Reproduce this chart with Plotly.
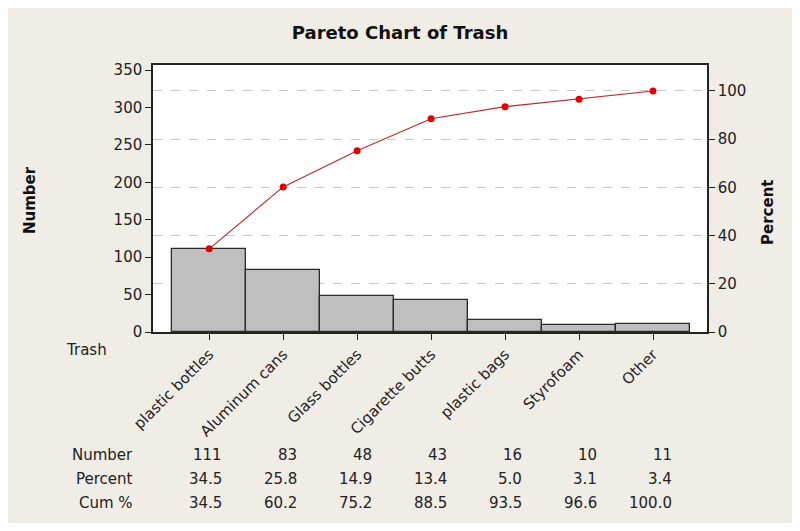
import plotly.graph_objects as go

# ---- data ------------------------------------------------------------------
categories = ["plastic bottles", "Aluminum cans", "Glass bottles", "Cigarette butts",
              "plastic bags", "Styrofoam", "Other"]
counts = [111, 83, 48, 43, 16, 10, 11]
percent = [34.5, 25.8, 14.9, 13.4, 5.0, 3.1, 3.4]
cum_percent = [34.5, 60.2, 75.2, 88.5, 93.5, 96.6, 100.0]
left_ticks = [0, 50, 100, 150, 200, 250, 300, 350]
right_ticks = [0, 20, 40, 60, 80, 100]

total = sum(counts)
left_top = 356.7
right_top = left_top / total * 100

FONT = "DejaVu Sans"
BG = "#f0ede6"
idx = list(range(len(categories)))

# the page body has an 8px margin, so the figure is shrunk to fit the window
W, H = 784, 515
PLOT_H = 267

fig = go.Figure()

fig.add_trace(go.Bar(
    x=idx, y=counts, width=1.0,
    marker=dict(color="#bfbfbf", line=dict(color="#2a2a2a", width=1.3)),
    yaxis="y", showlegend=False,
))

fig.add_trace(go.Scatter(
    x=idx, y=cum_percent, mode="lines+markers",
    line=dict(color="#b52a2a", width=1.1),
    marker=dict(color="#e00000", size=7),
    yaxis="y2", showlegend=False,
))

axis_line = dict(showline=True, linecolor="#222222", linewidth=1.5)
tick_font = dict(family=FONT, size=15, color="#222222")

fig.update_layout(
    width=W, height=H,
    paper_bgcolor=BG, plot_bgcolor="white",
    margin=dict(l=145, r=85, t=57, b=191),
    bargap=0,
    title=dict(text="<b>Pareto Chart of Trash</b>", x=(400 - 8) / W, xanchor="center",
               y=1 - 25 / H, yanchor="middle",
               font=dict(family=FONT, size=18, color="#111111")),
    font=dict(family=FONT, size=14, color="#222222"),
    xaxis=dict(
        range=[-0.76, 6.73], tickmode="array", tickvals=idx, ticktext=categories,
        tickangle=-45, ticks="outside", ticklen=6, tickcolor="#222222",
        tickfont=tick_font, showgrid=False, zeroline=False, mirror=True, **axis_line,
    ),
    yaxis=dict(
        range=[0, left_top], tickvals=left_ticks, ticks="outside", ticklen=6,
        tickcolor="#222222", tickfont=tick_font,
        showgrid=False, zeroline=False, **axis_line,
    ),
    yaxis2=dict(
        range=[0, right_top], tickvals=right_ticks, ticks="outside", ticklen=6,
        tickcolor="#222222", tickfont=tick_font,
        overlaying="y", side="right", showgrid=True, gridcolor="#c8c8c8",
        griddash="dash", gridwidth=1, zeroline=False, **axis_line,
    ),
)

# axis titles
fig.add_annotation(text="<b>Number</b>", xref="paper", yref="paper",
                   x=(30 - 153) / 554, y=(332 - 200) / PLOT_H, textangle=-90,
                   xanchor="center", yanchor="middle", showarrow=False,
                   font=dict(family=FONT, size=15, color="#111111"))
fig.add_annotation(text="<b>Percent</b>", xref="paper", yref="paper",
                   x=(768 - 153) / 554, y=(332 - 213) / PLOT_H, textangle=-90,
                   xanchor="center", yanchor="middle", showarrow=False,
                   font=dict(family=FONT, size=15, color="#111111"))
fig.add_annotation(text="Trash", xref="paper", yref="paper",
                   x=(64 - 153) / 554, y=(332 - 350) / PLOT_H,
                   xanchor="left", yanchor="middle",
                   showarrow=False, font=dict(family=FONT, size=15, color="#222222"))

# table under the chart
rows = [
    ("Number", [str(v) for v in counts], 455),
    ("Percent", [f"{v:.1f}" for v in percent], 479),
    ("Cum %", [f"{v:.1f}" for v in cum_percent], 503),
]
for label, vals, ypix in rows:
    yp = (332 - ypix) / PLOT_H
    fig.add_annotation(text=label, xref="paper", yref="paper",
                       x=(135 - 153) / 554, y=yp, xanchor="right", yanchor="middle",
                       showarrow=False, font=dict(family=FONT, size=15, color="#222222"))
    for i, v in zip(idx, vals):
        fig.add_annotation(text=v, xref="x", yref="paper", x=i, y=yp,
                           xanchor="right", yanchor="middle", xshift=15 + i,
                           showarrow=False,
                           font=dict(family=FONT, size=15, color="#222222"))

fig.write_html("out.html")
